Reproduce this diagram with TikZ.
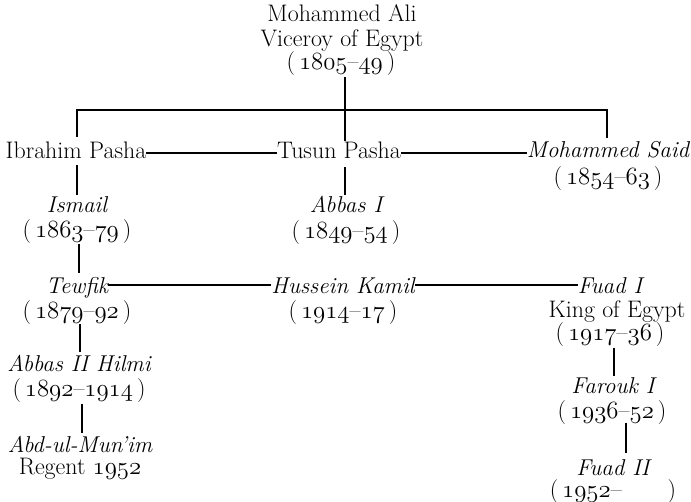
\documentclass[tikz,border=0pt]{standalone}
\usetikzlibrary{calc}
\newcommand\yr[1]{\ensuremath{\mathnormal{#1}}}
\newcommand\dt[2]{(\,\yr{#1}--\yr{#2}\,)}
\tikzset{
  t/.style={inner sep=0pt, anchor=base, font=\fontsize{24}{25}\selectfont},
  ti/.style={inner sep=0pt, anchor=base, font=\fontsize{23}{25}\selectfont\itshape},
  ln/.style={line width=1.3bp, line cap=butt}
}
\newcommand\vconn[5]{\draw[ln] ($(#1.south)+(#3,#4)$) coordinate (tmp) -- ($(tmp |- #2.north)+(0,-#5)$);}
\begin{document}
\begin{tikzpicture}[x=1bp,y=-1bp]
\useasboundingbox[fill=white] (0,0) rectangle (691,502);
% top
\node[t] (ma1) at (342,22) {Mohammed Ali};
\node[t] (ma2) at (342,47) {Viceroy of Egypt};
\node[t] (ma3) at (341,70) {\dt{1805}{49}};
% row 2
\node[t]  (ib) at (76,159) {Ibrahim Pasha};
\node[t]  (tu) at (339,159) {Tusun Pasha};
\node[ti] (ms) at (608,158) {Mohammed Said};
\node[t]  (msd) at (608,185) {\dt{1854}{63}};
% row 3
\node[ti] (is) at (77,213) {Ismail};
\node[t]  (isd) at (77,238) {\dt{1863}{79}};
\node[ti] (ab) at (346,213) {Abbas I};
\node[t]  (abd) at (346,239) {\dt{1849}{54}};
% row 4
\node[ti] (te) at (77,293) {Tewfik};
\node[t]  (ted) at (77,318) {\dt{1879}{92}};
\node[ti] (hk) at (343,293) {Hussein Kamil};
\node[t]  (hkd) at (343,318) {\dt{1914}{17}};
\node[ti] (fu) at (610,293) {Fuad I};
\node[t]  (fu2) at (617,317) {King of Egypt};
\node[t]  (fu3) at (610,340) {\dt{1917}{36}};
% row 5
\node[ti] (ah) at (79,371) {Abbas II Hilmi};
\node[t]  (ahd) at (79,396) {\dt{1892}{1914}};
\node[ti] (fa) at (613,393) {Farouk I};
\node[t]  (fad) at (612,418) {\dt{1936}{52}};
% row 6
\node[ti] (am) at (80,452) {Abd-ul-Mun’im};
\node[t]  (amd) at (80,474) {Regent \yr{1952}};
\node[ti] (f2) at (613,475) {Fuad II};
\node[t]  (f2d) at (613,497) {(\,\yr{1952}--\hspace{46bp})};
% bar
\coordinate (jl) at (77,110);
\coordinate (jm) at (345,110);
\coordinate (jr) at (607,110);
\draw[ln] ($(jm |- ma3.south)+(0,1)$) -- (jm);
\draw[line width=1.6bp] ($(jl)+(-0.65,0)$) -- ($(jr)+(0.65,0)$);
\draw[ln] (jl) -- ($(jl |- ib.north)+(0,-5)$);
\draw[ln] (jr) -- ($(jr |- ms.north)+(0,-4)$);
\draw[ln] (jm) -- ($(jm |- tu.north)+(0,-1)$);
% horizontal links
\draw[ln] ($(ib.base east)+(0,-6)$) -- ($(tu.base west)+(0,-6)$);
\draw[ln] ($(tu.base east)+(0,-6)$) -- ($(ms.base west)+(0,-5)$);
\draw[ln] ($(te.base east)+(0,-8)$) -- ($(hk.base west)+(0,-8)$);
\draw[ln] ($(hk.base east)+(0,-8)$) -- ($(fu.base west)+(0,-8)$);
% vertical links
\vconn{ib}{is}{1}{6}{2}
\vconn{tu}{ab}{6}{8}{1}
\vconn{isd}{te}{2}{0}{4}
\vconn{ted}{ah}{3}{0}{2}
\vconn{ahd}{am}{3}{1.5}{2.5}
\vconn{fu3}{fa}{4}{1.5}{1}
\vconn{fad}{f2}{14}{-1.5}{5.5}
\end{tikzpicture}
\end{document}
